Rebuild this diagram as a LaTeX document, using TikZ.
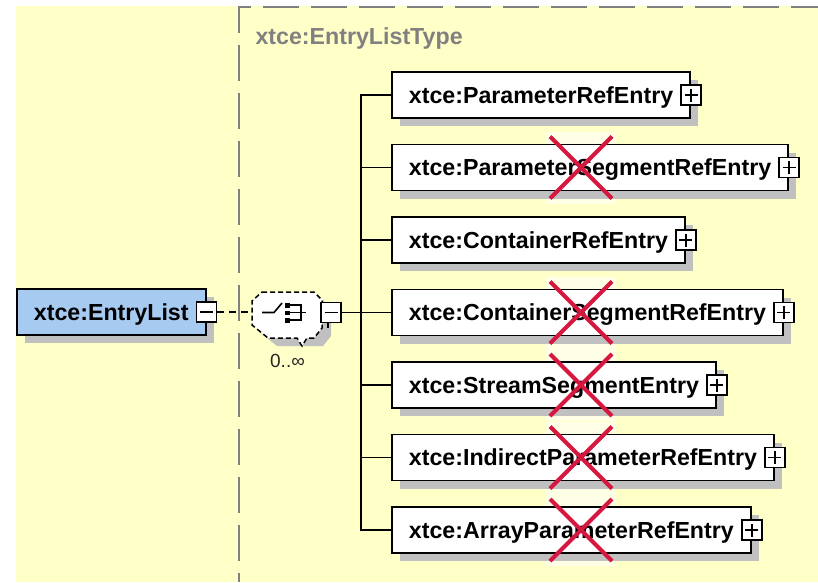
\documentclass[tikz,border=0pt]{standalone}
\usepackage{fontspec}
\setmainfont{Liberation Sans}
\usetikzlibrary{shadows}
\definecolor{bgy}{RGB}{255,255,200}
\definecolor{shd}{RGB}{192,192,192}
\definecolor{elblue}{RGB}{166,202,240}
\definecolor{tgray}{RGB}{128,128,128}
\definecolor{xred}{RGB}{214,24,64}
\begin{document}
\begin{tikzpicture}[x=1pt,y=-1pt,
  every node/.style={font=\fontsize{23.2}{26}\selectfont\bfseries},
  elem/.style={draw, line width=1.8pt, fill=white, rectangle, minimum height=46pt,
    inner xsep=17pt, inner ysep=0pt, text height=21pt, text depth=4.4pt, anchor=west,
    drop shadow={shadow xshift=8pt, shadow yshift=-8pt, fill=shd, opacity=1}},
  icon/.style={draw, line width=1.5pt, fill=white, minimum size=20pt, inner sep=0pt},
  minusicon/.style={icon, path picture={
    \draw[line width=1.6pt] ([xshift=-6.5pt]path picture bounding box.center) -- ([xshift=6.5pt]path picture bounding box.center);}},
  plusicon/.style={icon, path picture={
    \draw[line width=1.6pt] ([xshift=-6.5pt]path picture bounding box.center) -- ([xshift=6.5pt]path picture bounding box.center);
    \draw[line width=1.6pt] ([yshift=-6.5pt]path picture bounding box.center) -- ([yshift=6.5pt]path picture bounding box.center);}},
  conn/.style={line width=1.5pt, black},
  frame/.style={tgray, line width=2pt, dash pattern=on 36pt off 12pt},
  xmark/.style={xred, line width=4pt},
]
\useasboundingbox (0,0) rectangle (818,582);
\fill[white] (0,0) rectangle (818,582);
\fill[bgy] (16,6) rectangle (818,582);
% frame of the type
\draw[frame, dash phase=24pt] (239,6.5) -- (818,6.5);
\draw[frame, dash phase=9pt] (239,6) -- (239,582);
\node[text=tgray, anchor=base west] (ttl) at (252,44) {xtce:EntryListType};
% light patches behind the red crosses
\foreach \cy in {167.5,312.5,385,457.5,530} {
  \fill[white, opacity=.55] (545,{\cy-36}) rectangle (616,{\cy+36});
}
% root element
\node[elem, fill=elblue] (el) at (16,312) {xtce:EntryList\hspace{2.7pt}};
\node[minusicon] (m1) at (el.east) {};
% compositor
\fill[shd, shift={(9,8)}] (262,292) -- (314,292) -- (322,300) -- (322,328) -- (314,338) -- (268,338) -- (252,325) -- (252,301) -- cycle;
\draw[line width=1.5pt, dash pattern=on 5pt off 3pt, fill=white] (262,292) -- (314,292) -- (322,300) -- (322,328) -- (314,338) -- (307,338) -- (302,346) -- (297,338) -- (268,338) -- (252,325) -- (252,301) -- cycle;
\node[inner sep=0pt, minimum width=70pt, minimum height=46pt] (cmp) at (287,315) {};
\draw[line width=1.6pt] (262,312.5) -- (274,312.5) -- (282,303);
\fill (285,303) rectangle (289.5,307.5);
\fill (285,310.5) rectangle (289.5,315);
\fill (285,318) rectangle (289.5,322.5);
\draw[line width=1.5pt] (289.5,305) -- (301,305) -- (301,320) -- (289.5,320);
\draw[line width=1.5pt] (289.5,312.5) -- (306,312.5);
\node[minusicon] (m2) at (331,312.5) {};
\draw[line width=1.2pt] ([xshift=-3pt]m2.south) -- ++(0,5);
\node[font=\fontsize{19}{22}\selectfont, text=black!85, anchor=base] (occ) at (287.5,367) {0..∞};
% child elements
\node[elem] (b1) at (391,95) {xtce:ParameterRefEntry\hspace{2.7pt}};
\node[elem] (b2) at (391,167.5) {xtce:ParameterSegmentRefEntry\hspace{2.7pt}};
\node[elem] (b3) at (391,240) {xtce:ContainerRefEntry\hspace{2.7pt}};
\node[elem] (b4) at (391,312.5) {xtce:ContainerSegmentRefEntry\hspace{2.7pt}};
\node[elem] (b5) at (391,385) {xtce:StreamSegmentEntry\hspace{2.7pt}};
\node[elem] (b6) at (391,457.5) {xtce:IndirectParameterRefEntry\hspace{2.7pt}};
\node[elem] (b7) at (391,530) {xtce:ArrayParameterRefEntry\hspace{2.7pt}};
\foreach \b in {b1,b2,b3,b4,b5,b6,b7} {
  \node[plusicon] (p\b) at (\b.east) {};
}
% connectors
\draw[conn, dash pattern=on 7pt off 5pt] (m1.east) -- (m1.east -| cmp.west);
\coordinate (tk) at (361,312.5);
\draw[conn] (m2.east) -- (b4.west);
\draw[conn] (b1.west) -| (tk) |- (b7.west);
\foreach \b in {b2,b3,b5,b6} {
  \draw[conn] (\b.west) -- (tk |- \b.west);
}
% red crosses
\foreach \cy in {167.5,312.5,385,457.5,530} {
  \draw[xmark] (550,{\cy-31}) -- (612,{\cy+31});
  \draw[xmark] (550,{\cy+31}) -- (612,{\cy-31});
}
\end{tikzpicture}
\end{document}
